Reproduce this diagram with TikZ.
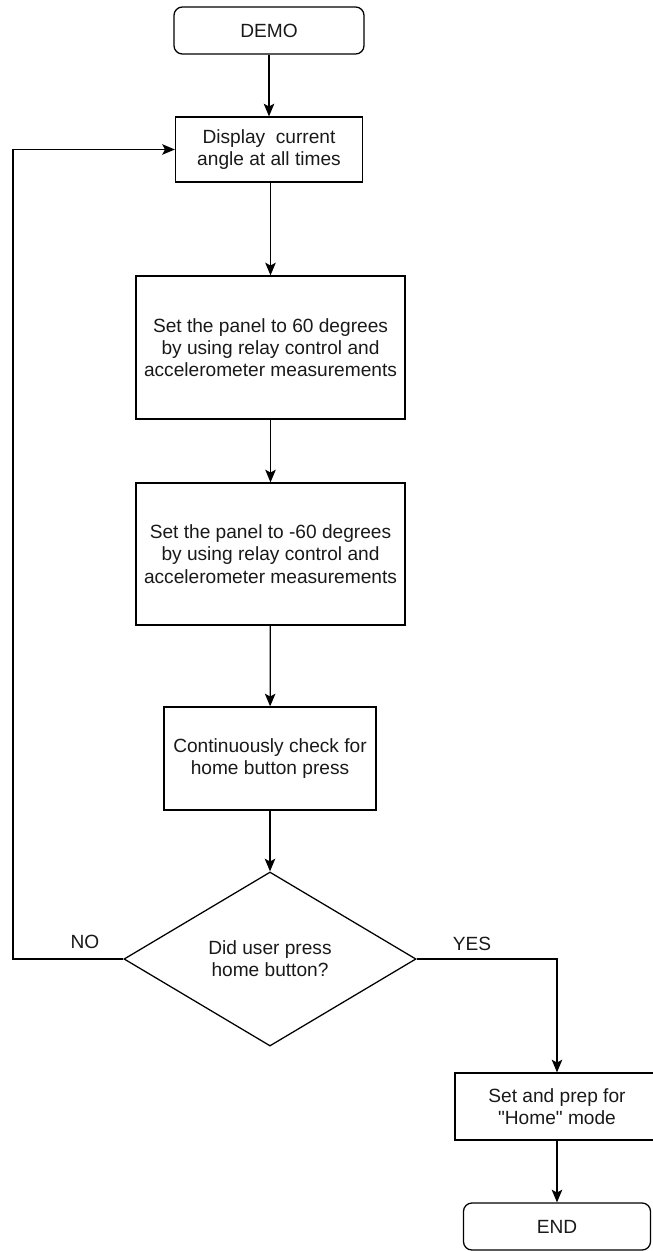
\documentclass[tikz,border=0pt]{standalone}
\usepackage{fontspec}
\setmainfont{Liberation Sans}
\usetikzlibrary{shapes.geometric,arrows.meta}

\begin{document}
\begin{tikzpicture}[x=0.025cm, y=-0.025cm,
    every node/.style={font=\fontsize{13.6}{15.8}\selectfont, text=black!90},
    proc/.style={draw, line width=0.9pt, align=center, inner sep=0pt},
    term/.style={proc, rounded corners=6pt},
    decide/.style={draw, diamond, line width=0.9pt, align=center, inner sep=0pt},
    flow/.style={line width=0.9pt, -{Stealth[length=9pt, width=7.5pt, inset=2pt]}}]
  \useasboundingbox (0,0) rectangle (652,1251);
  \node[term, minimum width=4.75cm, minimum height=1.175cm] (demo) at (269,30.5) {DEMO};
  \node[proc, minimum width=4.675cm, minimum height=1.625cm] (disp) at (269,149.5) {Display\ \ current\\angle at all times};
  \node[proc, minimum width=6.725cm, minimum height=3.575cm] (pos) at (270.5,347.5) {Set the panel to 60 degrees\\by using relay control and\\accelerometer measurements};
  \node[proc, minimum width=6.725cm, minimum height=3.55cm] (neg) at (270.5,554) {Set the panel to -60 degrees\\by using relay control and\\accelerometer measurements};
  \node[proc, minimum width=5.3cm, minimum height=2.575cm] (chk) at (270,758.5) {Continuously check for\\home button press};
  \node[decide, minimum width=7.3cm, minimum height=4.35cm] (dec) at (270,959) {Did user press\\home button?};
  \node[proc, minimum width=5.1cm, minimum height=1.675cm] (home) at (557,1106.5) {Set and prep for\\\textquotedbl Home\textquotedbl{} mode};
  \node[term, minimum width=4.675cm, minimum height=1.175cm] (fin) at (557,1226.5) {END};
  \coordinate (loop) at (13,959);

  \draw[flow] (demo) -- (disp);
  \draw[flow] (disp.south -| pos.north) -- (pos);
  \draw[flow] (pos) -- (neg);
  \draw[flow] (neg) -- (chk);
  \draw[flow] (chk) -- (dec);
  \draw[flow] (dec.west) -- (loop) |- (disp.west);
  \draw[flow] (dec.east) -| (home.north);
  \draw[flow] (home) -- (fin);
  \node (no) at (85,942) {NO};
  \node (yes) at (472,944) {YES};
\end{tikzpicture}
\end{document}
